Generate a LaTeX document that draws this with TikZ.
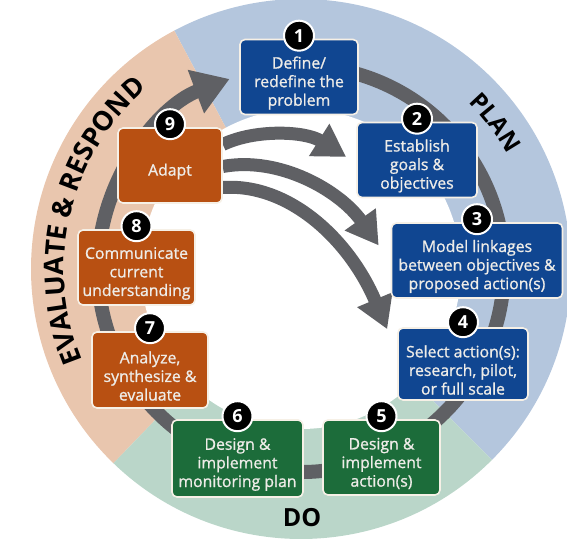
\documentclass[tikz,border=0pt]{standalone}
\usepackage{fontspec}
\setmainfont{Open Sans}
\newfontfamily\boxfont{Open Sans}[FakeBold=1]
\usepackage{tikz}
\definecolor{planblue}{RGB}{16,70,145}
\definecolor{respondorange}{RGB}{184,80,18}
\definecolor{dogreen}{RGB}{28,108,58}
\definecolor{planlight}{RGB}{180,198,221}
\definecolor{respondlight}{RGB}{233,198,174}
\definecolor{dolight}{RGB}{186,214,201}
\definecolor{cyclegray}{RGB}{95,96,100}
\definecolor{boxedge}{RGB}{246,240,230}
\definecolor{boxtext}{RGB}{238,236,232}
\usetikzlibrary{arrows.meta}
\usetikzlibrary{decorations.text}
\usetikzlibrary{backgrounds}

\begin{document}
\begin{tikzpicture}[x=0.5pt,y=0.5pt,
    stepbox/.style={rounded corners=2.5pt, draw=boxedge, line width=0.8pt, minimum height=37.5pt},
    steptext/.style={text=boxtext, align=center, font=\boxfont\fontsize{7.9}{9.3}\selectfont},
    badge/.style={circle, fill=black, draw=white, line width=1pt, minimum size=15pt, inner sep=0pt,
        text=white, font=\bfseries\fontsize{9}{9}\selectfont},
    cycleline/.style={draw=cyclegray, line width=7pt},
    shortcut/.style={draw=cyclegray, line width=6.5pt, -{Triangle[width=18pt,length=16pt]}},
    phase/.style={decorate, decoration={text along path, text align=center}}
]
\useasboundingbox (0,0) rectangle (567,541);
\coordinate (c) at (301,272);

\node[stepbox, fill=planblue, minimum width=59pt] (b1) at (299,464) {};
\node[stepbox, fill=planblue, minimum width=60pt] (b2) at (417,381) {};
\node[stepbox, fill=planblue, minimum width=85.5pt] (b3) at (477,280.5) {};
\node[stepbox, fill=planblue, minimum width=65pt, minimum height=36pt] (b4) at (463,177) {};
\node[stepbox, fill=dogreen, minimum width=58.5pt] (b5) at (381.5,83.5) {};
\node[stepbox, fill=dogreen, minimum width=65.5pt, minimum height=38.5pt] (b6) at (237.5,82.5) {};
\node[stepbox, fill=respondorange, minimum width=58pt, minimum height=38pt] (b7) at (150,171) {};
\node[stepbox, fill=respondorange, minimum width=58.5pt] (b8) at (136.5,273.5) {};
\node[stepbox, fill=respondorange, minimum width=52pt] (b9) at (170,375.5) {};

\node[steptext] (t1) at ([yshift=-3pt]b1.center) {Define/\\redefine the\\problem};
\node[steptext] (t2) at ([yshift=-3pt]b2.center) {Establish\\goals \&\\objectives};
\node[steptext] (t3) at ([yshift=-3pt]b3.center) {Model linkages\\between objectives \&\\proposed action(s)};
\node[steptext] (t4) at ([yshift=-3pt]b4.center) {Select action(s):\\research, pilot,\\or full scale};
\node[steptext] (t5) at ([yshift=-3pt]b5.center) {Design \&\\implement\\action(s)};
\node[steptext] (t6) at ([yshift=-3pt]b6.center) {Design \&\\implement\\monitoring plan};
\node[steptext] (t7) at ([yshift=-3pt]b7.center) {Analyze,\\synthesize \&\\evaluate};
\node[steptext] (t8) at ([yshift=-3pt]b8.center) {Communicate\\current\\understanding};
\node[steptext] (t9) at ([yshift=-3pt]b9.center) {Adapt};

\node[badge] (n1) at ([yshift=1.5pt]b1.north) {1};
\node[badge] (n2) at ([yshift=1.5pt]b2.north) {2};
\node[badge] (n3) at ([yshift=1.5pt]b3.north) {3};
\node[badge] (n4) at ([yshift=2.5pt]b4.north) {4};
\node[badge] (n5) at ([yshift=1.5pt]b5.north) {5};
\node[badge] (n6) at ([yshift=1.5pt]b6.north) {6};
\node[badge] (n7) at ([yshift=1.5pt]b7.north) {7};
\node[badge] (n8) at ([yshift=1.5pt]b8.north) {8};
\node[badge] (n9) at ([yshift=1.5pt]b9.north) {9};

\begin{scope}[on background layer]
    \fill[planlight] (c) -- ([shift={(-45:270)}]c) arc[start angle=-45, end angle=118, radius=270] -- cycle;
    \fill[respondlight] (c) -- ([shift={(118:270)}]c) arc[start angle=118, end angle=226, radius=270] -- cycle;
    \fill[dolight] (c) -- ([shift={(226:270)}]c) arc[start angle=226, end angle=315, radius=270] -- cycle;
    \fill[white] (c) circle[radius=160];

    \path[phase, decoration={text={|\bfseries\fontsize{12}{12}\selectfont|PLAN}}]
        ([shift={(62:236)}]c) arc[start angle=62, end angle=12, radius=236];
    \path[phase, decoration={text={|\bfseries\fontsize{13.5}{13.5}\selectfont|EVALUATE {\&} RESPOND}}]
        ([shift={(217:237)}]c) arc[start angle=217, end angle=116, radius=237];
    \node[font=\bfseries\fontsize{12.5}{12.5}\selectfont] (do) at (302,23) {DO};

    \draw[cycleline, -{Triangle[width=22pt,length=18pt]}]
        ([shift={(80:203)}]c) arc[start angle=80, end angle=-249.4, radius=203];

    \draw[shortcut] ([yshift=10.5pt]b9.east) .. controls (255,412) and (305,410) .. ([xshift=-5pt,yshift=1.5pt]b2.west);
    \draw[shortcut] ([yshift=-0.5pt]b9.east) .. controls (280,385) and (340,350) .. ([xshift=-6pt,yshift=7.5pt]b3.west);
    \draw[shortcut] ([yshift=-11pt]b9.east) .. controls (290,358) and (350,300) .. ([xshift=-5pt,yshift=-1pt]b4.north west);
\end{scope}
\end{tikzpicture}
\end{document}
